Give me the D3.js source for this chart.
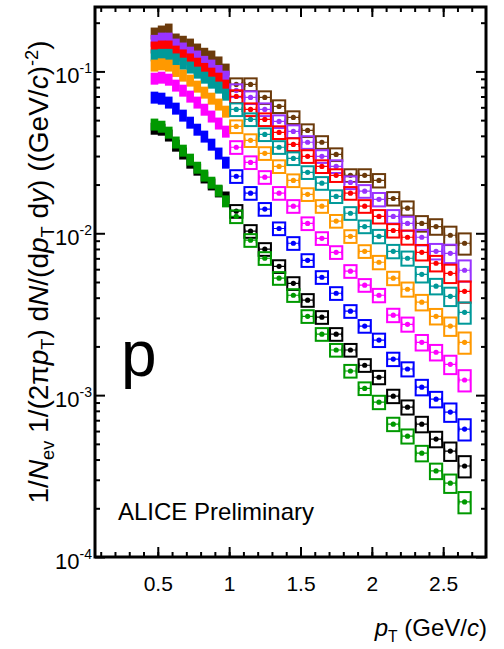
<!DOCTYPE html>
<html>
<head>
<meta charset="utf-8">
<script src="https://cdn.jsdelivr.net/npm/d3@7"></script>
<style>
  body { margin: 0; background: #fff; }
  text { font-family: "Liberation Sans", Arial, sans-serif; }
</style>
</head>
<body>
<svg id="chart" width="504" height="649"></svg>
<script>
// pT bin centres (GeV/c) and half widths
const ptBins = [0.475, 0.525, 0.575, 0.625, 0.675, 0.725, 0.775, 0.825, 0.875, 0.925, 0.975,
  1.05, 1.15, 1.25, 1.35, 1.45, 1.55, 1.65, 1.75, 1.85, 1.95, 2.05, 2.15, 2.25, 2.35, 2.45, 2.55, 2.65];
const binHalf = [0.025, 0.025, 0.025, 0.025, 0.025, 0.025, 0.025, 0.025, 0.025, 0.025, 0.025,
  0.05, 0.05, 0.05, 0.05, 0.05, 0.05, 0.05, 0.05, 0.05, 0.05, 0.05, 0.05, 0.05, 0.05, 0.05, 0.05, 0.05];
// relative systematic uncertainty per bin
const sysRel = [0.085, 0.085, 0.085, 0.085, 0.085, 0.085, 0.085, 0.085, 0.085, 0.085, 0.085,
  0.09, 0.09, 0.09, 0.09, 0.09, 0.09, 0.09, 0.09, 0.09, 0.09, 0.095, 0.095, 0.10, 0.11, 0.11, 0.13, 0.15];

// yields per multiplicity class (highest first)
const yieldBrown = [0.172, 0.177, 0.182, 0.158, 0.153, 0.147, 0.137, 0.129, 0.124, 0.114, 0.103,
  0.0831, 0.0831, 0.0691, 0.0608, 0.0520, 0.0432, 0.0365, 0.0307, 0.0228, 0.0228, 0.0212, 0.0164, 0.0143, 0.0115, 0.0110, 0.00972, 0.00868];
const yieldPurple = [0.155, 0.160, 0.160, 0.147, 0.139, 0.131, 0.124, 0.115, 0.109, 0.101, 0.0931,
  0.0763, 0.0691, 0.0582, 0.0491, 0.0426, 0.0365, 0.0299, 0.0259, 0.0206, 0.0182, 0.0162, 0.0127, 0.0115, 0.00945, 0.00774, 0.00752, 0.00591];
const yieldRed = [0.141, 0.143, 0.143, 0.133, 0.126, 0.119, 0.112, 0.104, 0.0972, 0.0905, 0.0820,
  0.0701, 0.0582, 0.0505, 0.0420, 0.0354, 0.0299, 0.0259, 0.0228, 0.0177, 0.0147, 0.0127, 0.0104, 0.00945, 0.00763, 0.00653, 0.00566, 0.00438];
const yieldTeal = [0.126, 0.127, 0.127, 0.119, 0.112, 0.106, 0.0986, 0.0918, 0.0855, 0.0797, 0.0721,
  0.0582, 0.0505, 0.0408, 0.0340, 0.0290, 0.0238, 0.0204, 0.0169, 0.0133, 0.0110, 0.00958, 0.00774, 0.00701, 0.00558, 0.00471, 0.00408, 0.00325];
const yieldOrange = [0.109, 0.111, 0.109, 0.101, 0.0945, 0.0880, 0.0808, 0.0742, 0.0681, 0.0626, 0.0566,
  0.0457, 0.0375, 0.0312, 0.0259, 0.0212, 0.0174, 0.0147, 0.0119, 0.00958, 0.00774, 0.00662, 0.00528, 0.00451, 0.00375, 0.00307, 0.00267, 0.00212];
const yieldMagenta = [0.0905, 0.0918, 0.0892, 0.0820, 0.0763, 0.0701, 0.0644, 0.0582, 0.0528, 0.0478, 0.0426,
  0.0340, 0.0274, 0.0222, 0.0177, 0.0147, 0.0115, 0.00931, 0.00763, 0.00583, 0.00478, 0.00414, 0.00312, 0.00274, 0.00212, 0.00184, 0.00155, 0.00124];
const yieldBlue = [0.0691, 0.0681, 0.0644, 0.0591, 0.0535, 0.0484, 0.0438, 0.0397, 0.0354, 0.0312, 0.0274,
  0.0225, 0.0177, 0.0141, 0.0107, 0.00868, 0.00681, 0.00535, 0.00426, 0.00330, 0.00267, 0.00219, 0.00167, 0.00145, 0.00112, 0.000944, 0.000786, 0.000617];
const yieldBlack = [0.0444, 0.0438, 0.0403, 0.0349, 0.0312, 0.0274, 0.0248, 0.0222, 0.0201, 0.0182, 0.0167,
  0.0137, 0.0103, 0.00797, 0.00625, 0.00491, 0.00386, 0.00303, 0.00238, 0.00190, 0.00153, 0.00129, 0.000986, 0.000843, 0.000662, 0.000535, 0.000451, 0.000365];
const yieldGreen = [0.0471, 0.0457, 0.0420, 0.0365, 0.0325, 0.0286, 0.0255, 0.0228, 0.0206, 0.0184, 0.0158,
  0.0127, 0.00906, 0.00701, 0.00528, 0.00414, 0.00307, 0.00238, 0.00190, 0.00141, 0.00110, 0.000905, 0.000662, 0.000558, 0.000438, 0.000340, 0.000286, 0.000219];

const seriesColors = ['#6b3a0b', '#9933ff', '#ff0000', '#009999', '#ff9900', '#ff00ff', '#0000ff', '#000000', '#009900'];
const seriesYields = [yieldBrown, yieldPurple, yieldRed, yieldTeal, yieldOrange, yieldMagenta, yieldBlue, yieldBlack, yieldGreen];

const xTicksMajor = [0.5, 1, 1.5, 2, 2.5];
const yTicksMajor = [1e-4, 1e-3, 1e-2, 1e-1];
const yTickExp = ['-4', '-3', '-2', '-1'];

// layout
let width = 504, height = 649;
let margin = { top: 7, bottom: 92, left: 95, right: 18 };
let svg = d3.select('#chart');

let xScale = d3.scaleLinear()
  .domain([0.06, 2.8])
  .range([margin.left, width - margin.right]);
let yScale = d3.scaleLog()
  .domain([1e-4, 0.25])
  .range([height - margin.bottom, margin.top]);

// build the point list
let points = [];
seriesYields.forEach(function(ys, s) {
  ys.forEach(function(v, i) {
    points.push({ s: s, pt: ptBins[i], hw: binHalf[i], v: v, sys: sysRel[i], low: ptBins[i] < 1 });
  });
});

let plot = svg.append('g');

// low pT: filled systematic boxes
plot.selectAll('rect.low')
  .data(points.filter(d => d.low))
  .enter()
  .append('rect')
  .attr('class', 'low')
  .attr('x', d => xScale(d.pt - d.hw))
  .attr('width', d => xScale(d.pt + d.hw) - xScale(d.pt - d.hw) + 0.5)
  .attr('y', d => yScale(d.v * (1 + d.sys)))
  .attr('height', d => yScale(d.v * (1 - d.sys)) - yScale(d.v * (1 + d.sys)))
  .attr('fill', d => seriesColors[d.s]);

// high pT: open boxes with markers
let high = plot.selectAll('g.high')
  .data(points.filter(d => !d.low))
  .enter()
  .append('g')
  .attr('class', 'high');

high.append('rect')
  .attr('x', d => xScale(d.pt - d.hw) + 1)
  .attr('width', d => xScale(d.pt + d.hw) - xScale(d.pt - d.hw) - 2)
  .attr('y', d => yScale(d.v * (1 + d.sys)))
  .attr('height', d => yScale(d.v * (1 - d.sys)) - yScale(d.v * (1 + d.sys)))
  .attr('fill', 'none')
  .attr('stroke', d => seriesColors[d.s])
  .attr('stroke-width', 2);

// horizontal error bar with end caps
high.append('path')
  .attr('d', function(d) {
    let x0 = xScale(d.pt - 0.04), x1 = xScale(d.pt + 0.04), yc = yScale(d.v);
    return `M${x0},${yc}H${x1}M${x0},${yc - 2.5}V${yc + 2.5}M${x1},${yc - 2.5}V${yc + 2.5}`;
  })
  .attr('stroke', d => seriesColors[d.s])
  .attr('stroke-width', 1.2)
  .attr('fill', 'none');

high.append('circle')
  .attr('cx', d => xScale(d.pt))
  .attr('cy', d => yScale(d.v))
  .attr('r', 2.6)
  .attr('fill', d => seriesColors[d.s]);

// axes with inward ticks
let bottomY = height - margin.bottom, rightX = width - margin.right;
let xMinor = d3.range(1, 28).map(i => i / 10);
let yMinor = [];
[-4, -3, -2, -1].forEach(function(e) {
  for (let m = 2; m <= 9; m++) {
    let v = m * Math.pow(10, e);
    if (v <= 0.25) yMinor.push(v);
  }
});

function styleAxis(g) {
  g.select('.domain').remove();
  g.selectAll('line').attr('stroke', '#000').attr('stroke-width', 2);
}

svg.append('g').attr('transform', `translate(0,${bottomY})`)
  .call(d3.axisBottom(xScale).tickValues(xMinor).tickSize(-5).tickFormat(''))
  .call(styleAxis);
svg.append('g').attr('transform', `translate(0,${margin.top})`)
  .call(d3.axisTop(xScale).tickValues(xMinor).tickSize(-5).tickFormat(''))
  .call(styleAxis);
svg.append('g').attr('transform', `translate(0,${margin.top})`)
  .call(d3.axisTop(xScale).tickValues(xTicksMajor).tickSize(-10).tickFormat(''))
  .call(styleAxis);

let xAxis = svg.append('g').attr('transform', `translate(0,${bottomY})`)
  .call(d3.axisBottom(xScale).tickValues(xTicksMajor).tickSize(-10).tickPadding(19).tickFormat(d3.format('')))
  .call(styleAxis);
xAxis.selectAll('text').attr('font-size', 21).attr('fill', '#000')
  .style('font-family', '"Liberation Sans", Arial, sans-serif');

svg.append('g').attr('transform', `translate(${margin.left},0)`)
  .call(d3.axisLeft(yScale).tickValues(yMinor).tickSize(-5).tickFormat(''))
  .call(styleAxis);
svg.append('g').attr('transform', `translate(${margin.left},0)`)
  .call(d3.axisLeft(yScale).tickValues(yTicksMajor).tickSize(-10).tickFormat(''))
  .call(styleAxis);
svg.append('g').attr('transform', `translate(${rightX},0)`)
  .call(d3.axisRight(yScale).tickValues(yMinor).tickSize(-5).tickFormat(''))
  .call(styleAxis);
svg.append('g').attr('transform', `translate(${rightX},0)`)
  .call(d3.axisRight(yScale).tickValues(yTicksMajor).tickSize(-10).tickFormat(''))
  .call(styleAxis);

// y tick labels 10^n
let yLab = svg.selectAll('text.ylab')
  .data(yTicksMajor)
  .enter()
  .append('text')
  .attr('class', 'ylab')
  .attr('x', margin.left - 3)
  .attr('y', d => yScale(d) + 12)
  .attr('text-anchor', 'end')
  .attr('font-size', 22);
yLab.append('tspan').text('10');
yLab.append('tspan').attr('dy', -10).attr('font-size', 14).text((d, i) => yTickExp[i]);

// frame
svg.append('rect')
  .attr('x', margin.left)
  .attr('y', margin.top)
  .attr('width', rightX - margin.left)
  .attr('height', bottomY - margin.top)
  .attr('fill', 'none')
  .attr('stroke', '#000')
  .attr('stroke-width', 3);

// rich text helper: parts with italic / sub / sup
function richText(sel, parts, size) {
  let shift = 0;
  parts.forEach(function(p) {
    let want = p.sub ? 6 : (p.sup ? -10 : 0);
    let ts = sel.append('tspan').text(p.t);
    if (want !== shift) { ts.attr('dy', want - shift); shift = want; }
    if (p.sub || p.sup) ts.attr('font-size', size * 0.65);
    if (p.i) ts.attr('font-style', 'italic');
  });
}

// y-axis title
let yTitle = svg.append('text')
  .attr('transform', 'translate(48,272) rotate(-90)')
  .attr('text-anchor', 'middle')
  .attr('font-size', 28);
richText(yTitle, [
  { t: '1/' }, { t: 'N', i: true }, { t: 'ev', sub: true },
  { t: ' 1/(2\u03c0' }, { t: 'p', i: true }, { t: 'T', sub: true },
  { t: ') d' }, { t: 'N', i: true }, { t: '/(d' }, { t: 'p', i: true }, { t: 'T', sub: true },
  { t: ' d' }, { t: 'y', i: true }, { t: ') ((GeV/' }, { t: 'c', i: true }, { t: ')' },
  { t: '-2', sup: true }, { t: ')' }
], 28);

// x-axis title
let xTitle = svg.append('text')
  .attr('x', rightX + 1)
  .attr('y', 636)
  .attr('text-anchor', 'end')
  .attr('font-size', 24);
richText(xTitle, [
  { t: 'p', i: true }, { t: 'T', sub: true }, { t: ' (GeV/' }, { t: 'c', i: true }, { t: ')' }
], 24);

// particle label and collaboration tag
svg.append('text')
  .attr('x', 121)
  .attr('y', 376)
  .attr('font-size', 64)
  .text('p');

svg.append('text')
  .attr('x', 118)
  .attr('y', 520)
  .attr('font-size', 24)
  .text('ALICE Preliminary');
</script>
</body>
</html>
